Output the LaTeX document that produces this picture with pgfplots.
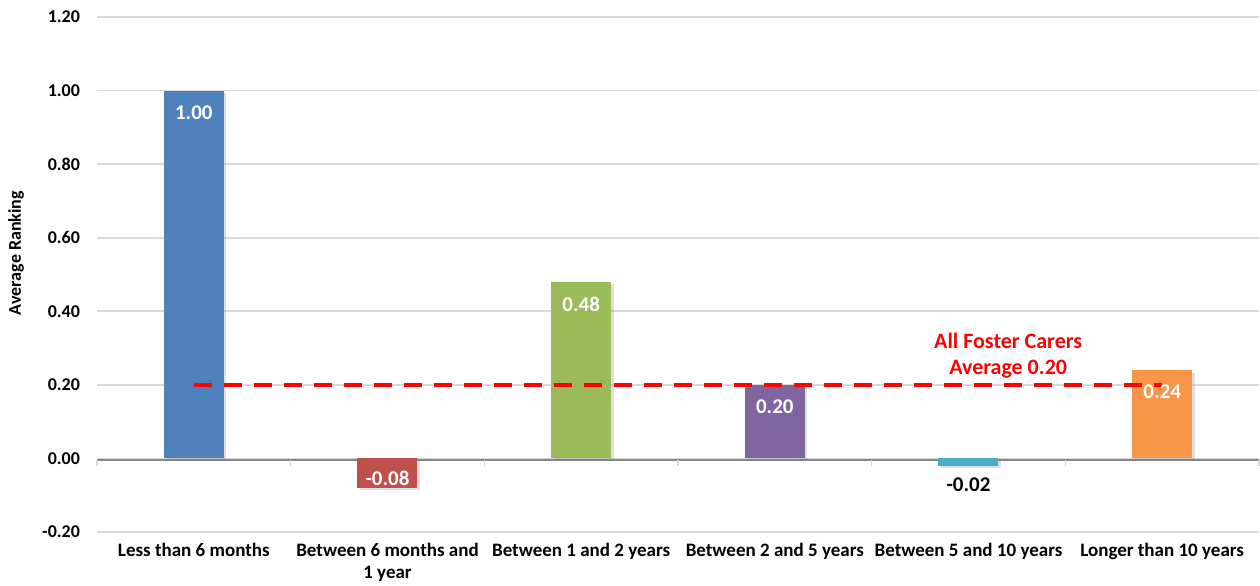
\documentclass[border=0pt]{standalone}
\usepackage{pgfplots}
\pgfplotsset{compat=1.18}
\usepackage{fontspec}
\setmainfont{Carlito}
\usetikzlibrary{shadows}

\definecolor{cBlue}{HTML}{4F81BD}
\definecolor{cRed}{HTML}{C0504D}
\definecolor{cGreen}{HTML}{9BBB59}
\definecolor{cPurple}{HTML}{8064A2}
\definecolor{cTeal}{HTML}{4BACC6}
\definecolor{cOrange}{HTML}{F79646}
\definecolor{gridgray}{HTML}{D9D9D9}
\definecolor{axisgray}{HTML}{868686}

\pgfplotsset{
  barstyle/.style={fill=#1, draw=none,
    drop shadow={shadow xshift=1.2pt, shadow yshift=-1.2pt, opacity=0.25},
    nodes near coords, point meta=explicit symbolic},
  lbl/.style={every node near coord/.append style={yshift=#1}},
}

\begin{document}
\begin{tikzpicture}
\path[use as bounding box] (-48.5pt,-26.5pt) rectangle (581.5pt,266pt);
\begin{axis}[
  scale only axis,
  width=581pt, height=257.5pt,
  xmin=-0.5, xmax=5.5,
  ymin=-0.2, ymax=1.2,
  ytick={-0.2,0,...,1.2},
  yticklabel style={/pgf/number format/fixed, /pgf/number format/fixed zerofill,
    /pgf/number format/precision=2, /pgf/number format/assume math mode=true,
    font=\fontsize{9pt}{10pt}\selectfont\bfseries, xshift=-5pt},
  xtick={0,1,2,3,4,5},
  xticklabels={Less than 6 months,{Between 6 months and\\1 year},Between 1 and 2 years,Between 2 and 5 years,Between 5 and 10 years,Longer than 10 years},
  xticklabel style={font=\fontsize{9.5pt}{11pt}\selectfont\bfseries, align=center, yshift=-2pt},
  major tick length=0pt,
  axis line style={draw=none},
  ymajorgrids,
  grid style={gridgray, line width=0.8pt},
  ylabel={Average Ranking},
  ylabel style={font=\fontsize{9pt}{10pt}\selectfont\bfseries, at={(axis description cs:0,0.5)}, anchor=center, xshift=10.75pt, yshift=40.5pt},
  ybar, bar width=30pt, bar shift=0pt,
  clip=false,
  every node near coord/.append style={font=\fontsize{10.5pt}{11pt}\selectfont\bfseries, white, anchor=center},
]
% zero baseline and category separators
\draw[axisgray, line width=1.1pt] (axis cs:-0.5,-0.004) -- (axis cs:5.5,-0.004);
\pgfplotsinvokeforeach{-0.5,0.5,1.5,2.5,3.5,4.5,5.5}{
  \draw[gridgray, line width=0.6pt] (axis cs:#1,-0.004) -- ++(0pt,-3pt);
}
% bars
\addplot[barstyle=cBlue, lbl=-11pt] coordinates {(0,1.00) [1.00]};
\addplot[barstyle=cRed, lbl=5pt] coordinates {(1,-0.08) [-0.08]};
\addplot[barstyle=cGreen, lbl=-11pt] coordinates {(2,0.48) [0.48]};
\addplot[barstyle=cPurple, lbl=-11pt] coordinates {(3,0.20) [0.20]};
\addplot[barstyle=cTeal, lbl=-9.5pt, every node near coord/.append style={black}] coordinates {(4,-0.02) [-0.02]};
\addplot[barstyle=cOrange, lbl=-11pt] coordinates {(5,0.24) [0.24]};
% overall average
\addplot[sharp plot, red, line width=2pt, dash pattern=on 9pt off 6pt, no markers]
  coordinates {(0,0.20) (5,0.20)};
\node[red, font=\fontsize{11pt}{13pt}\selectfont\bfseries, align=center]
  at (axis cs:4.205,0.279) {All Foster Carers\\Average 0.20};
\end{axis}
\end{tikzpicture}
\end{document}
